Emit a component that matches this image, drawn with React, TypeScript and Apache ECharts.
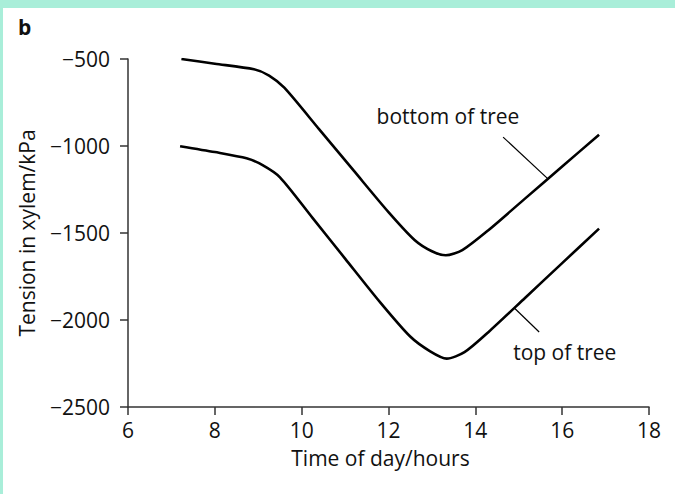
import React, { useEffect, useRef } from "react";
import * as echarts from "echarts";

const hoursBottom = [7.23, 8.0, 8.9, 9.25, 9.6, 10.4, 11.2, 12.0, 12.6, 13.0, 13.32, 13.7, 14.3, 15.15, 16.0, 16.85];
const tensionBottom = [-500, -527, -559, -595, -665, -903, -1142, -1380, -1540, -1605, -1628, -1598, -1484, -1301, -1118, -935];

const hoursTop = [7.2, 8.0, 8.73, 9.1, 9.5, 10.25, 11.0, 11.8, 12.5, 12.96, 13.34, 13.75, 14.3, 15.15, 16.0, 16.85];
const tensionTop = [-1001, -1035, -1071, -1110, -1180, -1413, -1647, -1896, -2095, -2180, -2222, -2185, -2070, -1872, -1673, -1475];

const xTicks = { min: 6, max: 18, step: 2 };
const yTicks = { min: -2500, max: -500, step: 500 };

const bottomLabel = { text: "bottom of tree", at: [13.37, -828], leader: [[14.64, -949], [15.66, -1186]] };
const topLabel = { text: "top of tree", at: [16.06, -2186], leader: [[14.91, -1934], [15.47, -2069]] };

const FONT = "'Open Sans', 'Noto Sans', sans-serif";
const MINT = "#a9eed9";

export default function App() {
  const ref = useRef<HTMLDivElement>(null);
  useEffect(() => {
    if (!ref.current) return;
    const chart = echarts.init(ref.current, null, { renderer: "svg" });
    const fmt = (v: number) => (v < 0 ? "\u2212" + Math.abs(v) : String(v));
    const annot = (l: typeof bottomLabel) => ({
      symbol: "none",
      silent: true,
      lineStyle: { color: "#000", width: 1.2, type: "solid" },
      label: { show: false },
      data: [[{ coord: l.leader[0] }, { coord: l.leader[1] }]],
    });
    const mp = (l: typeof bottomLabel) => ({
      symbol: "circle",
      symbolSize: 0,
      silent: true,
      label: { show: true, position: "inside", formatter: l.text, color: "#111", fontSize: 21, fontFamily: FONT },
      data: [{ coord: l.at }],
    });
    chart.setOption({
      animation: false,
      backgroundColor: "#fff",
      textStyle: { fontFamily: FONT },
      grid: { left: 128, right: 26, top: 59, bottom: 87 },
      graphic: [
        { type: "rect", left: 0, top: 0, shape: { width: 675, height: 8 }, style: { fill: MINT }, silent: true },
        { type: "rect", left: 0, top: 0, shape: { width: 3, height: 494 }, style: { fill: MINT }, silent: true },
        { type: "text", left: 18, top: 16, style: { text: "b", fontSize: 21, fontWeight: "bold", fill: "#111", fontFamily: FONT } },
      ],
      xAxis: {
        type: "value",
        min: xTicks.min,
        max: xTicks.max,
        interval: xTicks.step,
        name: "Time of day/hours",
        nameLocation: "middle",
        nameGap: 40,
        nameTextStyle: { fontSize: 21, color: "#111", fontFamily: FONT, padding: [0, 16, 0, 0] },
        axisLine: { onZero: false, lineStyle: { color: "#333", width: 1.5 } },
        axisTick: { show: true, length: 8, inside: false, lineStyle: { color: "#333", width: 1.5 } },
        axisLabel: { fontSize: 21, color: "#111", margin: 12, fontFamily: FONT },
        splitLine: { show: false },
      },
      yAxis: {
        type: "value",
        min: yTicks.min,
        max: yTicks.max,
        interval: yTicks.step,
        name: "Tension in xylem/kPa",
        nameLocation: "middle",
        nameGap: 91,
        nameTextStyle: { fontSize: 21, color: "#111", fontFamily: FONT },
        axisLine: { show: true, onZero: false, lineStyle: { color: "#333", width: 1.5 } },
        axisTick: { show: true, length: 8, inside: false, lineStyle: { color: "#333", width: 1.5 } },
        axisLabel: { fontSize: 21, color: "#111", margin: 18, fontFamily: FONT, formatter: fmt },
        splitLine: { show: false },
      },
      series: [
        {
          name: "bottom of tree",
          type: "line",
          data: hoursBottom.map((h, i) => [h, tensionBottom[i]]),
          showSymbol: false,
          smooth: 0.25,
          lineStyle: { color: "#000", width: 2.6 },
          markLine: annot(bottomLabel),
          markPoint: mp(bottomLabel),
        },
        {
          name: "top of tree",
          type: "line",
          data: hoursTop.map((h, i) => [h, tensionTop[i]]),
          showSymbol: false,
          smooth: 0.25,
          lineStyle: { color: "#000", width: 2.6 },
          markLine: annot(topLabel),
          markPoint: mp(topLabel),
        },
      ],
    });
    return () => chart.dispose();
  }, []);
  return (
    <div
      ref={ref}
      style={{ position: "fixed", left: 0, top: 0, width: 675, height: 494, background: "#fff" }}
    />
  );
}
